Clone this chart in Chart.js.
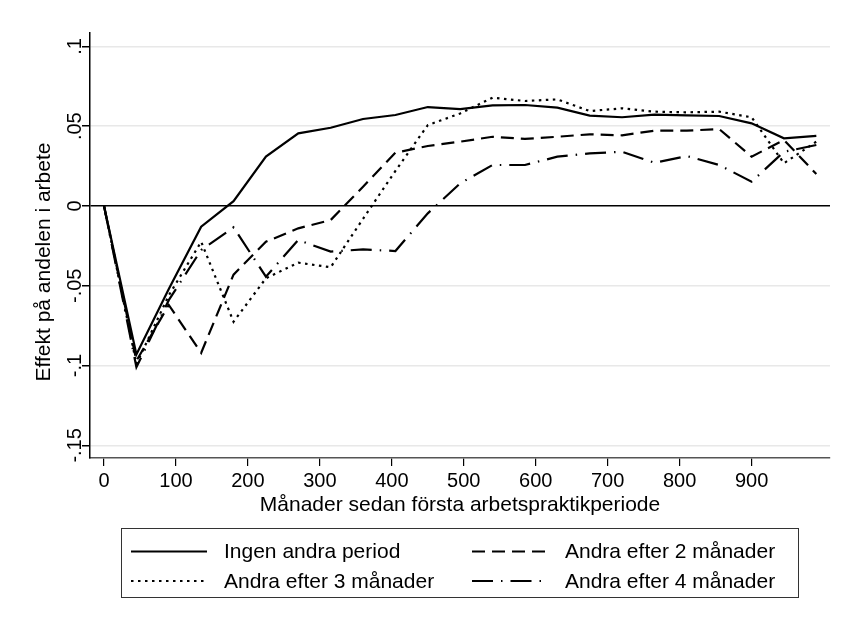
<!DOCTYPE html>
<html>
<head>
<meta charset="utf-8">
<script src="https://cdn.jsdelivr.net/npm/chart.js@4/dist/chart.umd.min.js"></script>
<style>
  html, body { margin: 0; padding: 0; background: #fff; }
  #wrap { width: 843px; height: 620px; }
</style>
</head>
<body>
<div id="wrap"><canvas id="effectChart" width="843" height="620"></canvas></div>
<script>
const months = [0, 45, 90, 135, 180, 225, 270, 315, 360, 405, 450, 495,
  540, 585, 630, 675, 720, 765, 810, 855, 900, 945, 990];

const ingenAndra = [0, -0.093, -0.052, -0.013, 0.003, 0.031, 0.0455, 0.049, 0.0545, 0.057, 0.062, 0.0607,
  0.063, 0.0633, 0.0616, 0.0566, 0.0556, 0.0572, 0.0568, 0.0564, 0.0518, 0.0424, 0.0439];
const andra2 = [0, -0.097, -0.062, -0.092, -0.043, -0.0224, -0.014, -0.0088, 0.0121, 0.0334, 0.0376, 0.0403,
  0.0434, 0.042, 0.0434, 0.0449, 0.0443, 0.0472, 0.0472, 0.0482, 0.0309, 0.0414, 0.020];
const andra3 = [0, -0.099, -0.056, -0.0224, -0.0725, -0.0453, -0.0355, -0.0384, -0.008, 0.022, 0.0507, 0.058,
  0.0679, 0.0658, 0.0668, 0.0595, 0.0612, 0.0591, 0.0587, 0.0591, 0.0556, 0.0268, 0.0403];
const andra4 = [0, -0.101, -0.059, -0.0276, -0.0134, -0.0443, -0.0213, -0.0286, -0.0272, -0.0282, -0.0046, 0.0142,
  0.0257, 0.0257, 0.0309, 0.033, 0.034, 0.0271, 0.0313, 0.0257, 0.0152, 0.034, 0.0382];

const xTicks = [0, 100, 200, 300, 400, 500, 600, 700, 800, 900];
const yTicks = [-0.15, -0.1, -0.05, 0, 0.05, 0.1];
const yTickLabels = ['-.15', '-.1', '-.05', '0', '.05', '.1'];

const FONT = "'Liberation Sans', Arial, Helvetica, sans-serif";

const toPoints = (vals) => vals.map((v, i) => ({ x: months[i], y: v }));

const makeSet = (label, vals, dash) => ({
  label: label,
  data: toPoints(vals),
  borderColor: '#000',
  borderWidth: 2.2,
  borderDash: dash,
  pointRadius: 0,
  tension: 0,
  fill: false,
});

// y tick labels, y title and the boxed legend are drawn by hand
const stataExtras = {
  id: 'stataExtras',
  afterDraw(chart) {
    const ctx = chart.ctx;
    const yScale = chart.scales.y;
    ctx.save();
    ctx.fillStyle = '#000';
    ctx.font = '20px ' + FONT;
    ctx.textAlign = 'center';
    ctx.textBaseline = 'alphabetic';
    yTicks.forEach((v, i) => {
      ctx.save();
      ctx.translate(81, yScale.getPixelForValue(v));
      ctx.rotate(-Math.PI / 2);
      ctx.fillText(yTickLabels[i], 0, 0);
      ctx.restore();
    });

    ctx.font = '21px ' + FONT;
    ctx.save();
    ctx.translate(50, 262);
    ctx.rotate(-Math.PI / 2);
    ctx.fillText('Effekt på andelen i arbete', 0, 0);
    ctx.restore();

    // legend
    ctx.strokeStyle = '#333';
    ctx.lineWidth = 1;
    ctx.strokeRect(121.5, 528.5, 677, 69);
    const cols = [131, 472];
    const rows = [551.5, 581];
    ctx.textAlign = 'left';
    ctx.textBaseline = 'middle';
    chart.data.datasets.forEach((ds, i) => {
      const cx = cols[i % 2];
      const cy = rows[Math.floor(i / 2)];
      ctx.beginPath();
      ctx.setLineDash(ds.borderDash || []);
      ctx.lineWidth = ds.borderWidth;
      ctx.strokeStyle = ds.borderColor;
      ctx.moveTo(cx, cy);
      ctx.lineTo(cx + 76, cy);
      ctx.stroke();
      ctx.setLineDash([]);
      ctx.fillText(ds.label, cx + 93, cy + 1);
    });
    ctx.restore();
  },
};

new Chart(document.getElementById('effectChart'), {
  type: 'line',
  data: {
    datasets: [
      makeSet('Ingen andra period', ingenAndra, []),
      makeSet('Andra efter 2 månader', andra2, [13, 7]),
      makeSet('Andra efter 3 månader', andra3, [2.5, 4.5]),
      makeSet('Andra efter 4 månader', andra4, [21, 8, 1.5, 8]),
    ],
  },
  options: {
    responsive: false,
    animation: false,
    layout: { padding: { left: 0, right: 13, top: 33, bottom: 100 } },
    plugins: {
      legend: { display: false },
      tooltip: { enabled: false },
    },
    scales: {
      x: {
        type: 'linear',
        min: -19.5,
        max: 1009,
        afterBuildTicks: (scale) => { scale.ticks = xTicks.map((v) => ({ value: v })); },
        afterFit: (scale) => { scale.height = 62; },
        ticks: {
          color: '#000',
          font: { family: FONT, size: 20 },
          padding: 3,
          maxRotation: 0,
          callback: (v) => String(v),
        },
        grid: { drawOnChartArea: false, drawTicks: true, tickLength: 8, tickColor: '#000', lineWidth: 1.2 },
        border: { display: true, color: '#555', width: 1.5 },
        title: {
          display: true,
          text: 'Månader sedan första arbetspraktikperiode',
          color: '#000',
          font: { family: FONT, size: 21 },
          padding: { top: 0, bottom: 2 },
        },
      },
      y: {
        min: -0.1579,
        max: 0.1084,
        afterBuildTicks: (scale) => { scale.ticks = yTicks.map((v) => ({ value: v })); },
        afterFit: (scale) => { scale.width = 90; },
        ticks: { display: false },
        grid: {
          color: (c) => (c.tick && c.tick.value === 0 ? '#000' : '#e8e8e8'),
          lineWidth: 1.5,
          tickLength: 8,
          tickColor: '#000',
        },
        border: { display: true, color: '#000', width: 1.5 },
      },
    },
  },
  plugins: [stataExtras],
});
</script>
</body>
</html>
